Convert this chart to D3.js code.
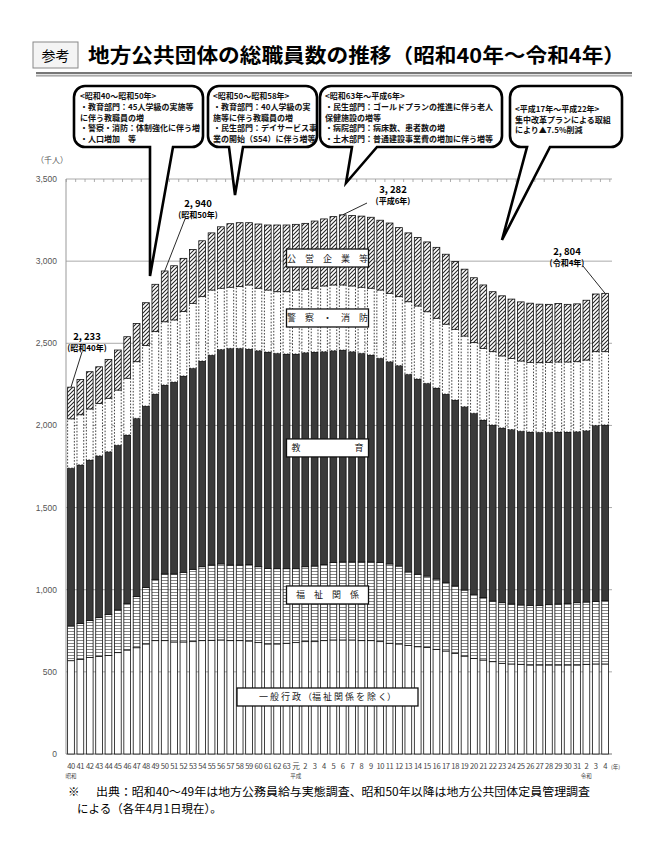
<!DOCTYPE html>
<html>
<head>
<meta charset="utf-8">
<script src="https://cdn.jsdelivr.net/npm/d3@7"></script>
<style>
  body { margin: 0; background: #fff; }
  svg { font-family: "Noto Sans CJK JP", "Noto Sans", sans-serif; }
</style>
</head>
<body>
<svg id="chart" width="660" height="849"></svg>
<script>
// 年（昭和40〜63, 平成元〜31, 令和2〜4）
const years = ['40','41','42','43','44','45','46','47','48','49','50','51','52','53','54','55','56','57','58','59','60','61','62','63',
  '元','2','3','4','5','6','7','8','9','10','11','12','13','14','15','16','17','18','19','20','21','22','23','24','25','26','27','28','29','30','31',
  '2','3','4']
const eraLabels = [{ i: 0, t: '昭和' }, { i: 24, t: '平成' }, { i: 55, t: '令和' }]

// 千人
const ippan = [568,576,588,593,599,617,633,647,670,690,690,682,682,684,690,692,694,690,690,688,678,670,670,674,
  678,684,684,690,694,694,694,690,690,684,674,670,661,653,649,637,627,613,596,582,572,562,552,548,546,542,542,542,542,542,542,
  546,548,548]
const fukushi = [211,219,224,237,251,260,284,311,343,373,406,414,424,440,450,458,463,460,460,466,462,460,458,454,
  450,456,460,464,471,475,475,479,479,481,483,474,447,441,434,428,418,410,402,390,380,369,369,365,361,363,363,367,371,375,379,
  379,381,385]
const kyoiku = [961,965,978,985,990,1003,1025,1085,1105,1128,1150,1168,1195,1224,1252,1278,1305,1319,1319,1311,1315,1317,1311,1307,
  1307,1303,1303,1295,1290,1290,1280,1270,1260,1244,1231,1220,1203,1189,1173,1163,1146,1132,1116,1102,1081,1072,1064,1062,1058,1055,1053,1049,1047,1043,1041,
  1043,1071,1070]
const keisatsu = [300,305,310,318,325,335,345,345,368,380,385,378,392,395,392,396,373,372,376,390,380,377,375,379,
  389,386,388,400,400,396,400,402,406,415,416,420,442,444,436,424,425,430,430,430,436,446,438,433,427,424,424,426,426,426,426,
  430,449,446]
const kouei = [193,215,227,224,237,244,253,233,261,288,309,330,324,328,340,348,374,387,389,379,391,396,406,406,
  400,401,409,408,416,427,429,433,432,425,428,420,419,417,425,432,426,413,407,395,386,365,366,361,360,360,356,353,356,351,352,
  364,351,355]

const keys = ['ippan', 'fukushi', 'kyoiku', 'keisatsu', 'kouei']
const series = { ippan, fukushi, kyoiku, keisatsu, kouei }
const yTicks = [0, 500, 1000, 1500, 2000, 2500, 3000, 3500]

const svg = d3.select('#chart')
const defs = svg.append('defs')

// patterns
const pF = defs.append('pattern').attr('id', 'pF').attr('patternUnits', 'userSpaceOnUse')
  .attr('width', 8).attr('height', 3)
pF.append('rect').attr('width', 8).attr('height', 3).attr('fill', '#fff')
pF.append('line').attr('x1', 0).attr('x2', 8).attr('y1', 1.5).attr('y2', 1.5)
  .attr('stroke', '#666').attr('stroke-width', 0.8)

const pK = defs.append('pattern').attr('id', 'pK').attr('patternUnits', 'userSpaceOnUse')
  .attr('width', 4).attr('height', 4)
pK.append('rect').attr('width', 4).attr('height', 4).attr('fill', '#fff')
pK.append('path').attr('d', 'M-1,1 l2,-2 M0,4 l4,-4 M3,5 l2,-2')
  .attr('stroke', '#222').attr('stroke-width', 1.05)

const fills = { ippan: '#fff', fukushi: 'url(#pF)', kyoiku: '#3a3a3a', keisatsu: '#fff', kouei: 'url(#pK)' }

const x = d3.scaleBand().domain(d3.range(years.length)).range([66.3, 609.8]).paddingInner(0.28).paddingOuter(0.14)
const y = d3.scaleLinear().domain([0, 3500]).range([754, 179])

// gridlines
svg.append('g').selectAll('line').data(yTicks).join('line')
  .attr('x1', 66).attr('x2', 612)
  .attr('y1', d => y(d)).attr('y2', d => y(d))
  .attr('stroke', d => d === 0 ? '#777' : '#aaa').attr('stroke-width', 1)
svg.append('line').attr('x1', 66).attr('x2', 66).attr('y1', y(3500)).attr('y2', y(0)).attr('stroke', '#999')

// small ticks on top gridline
const step = x.step()
svg.append('g').selectAll('line').data(d3.range(years.length + 1)).join('line')
  .attr('x1', d => 66.3 + d * step).attr('x2', d => 66.3 + d * step)
  .attr('y1', y(3500)).attr('y2', y(3500) + 3)
  .attr('stroke', '#999').attr('stroke-width', 0.8)

// y labels
svg.append('g').selectAll('text').data(yTicks).join('text')
  .attr('x', 57).attr('y', d => y(d) + 3)
  .attr('text-anchor', 'end').attr('font-size', 8.5).attr('fill', '#555')
  .attr('font-family', 'Liberation Sans, Arial, sans-serif')
  .text(d => d3.format(',')(d))
svg.append('text').attr('x', 36).attr('y', 163).attr('font-size', 8).attr('fill', '#555').text('（千人）')

// stacked bars
const rows = years.map((yr, i) => {
  const r = { i }
  keys.forEach(k => { r[k] = series[k][i] })
  return r
})
const stacked = d3.stack().keys(keys)(rows)
svg.append('g').selectAll('g').data(stacked).join('g')
  .attr('fill', d => fills[d.key])
  .attr('stroke', '#111')
  .attr('stroke-width', 0.8)
  .attr('stroke-dasharray', d => d.key === 'keisatsu' ? '1.6,1.6' : null)
  .selectAll('rect').data(d => d).join('rect')
  .attr('x', d => x(d.data.i))
  .attr('width', x.bandwidth())
  .attr('y', d => y(d[1]))
  .attr('height', d => y(d[0]) - y(d[1]))

// x labels
svg.append('g').selectAll('text').data(years).join('text')
  .attr('x', (d, i) => x(i) + x.bandwidth() / 2)
  .attr('y', 769)
  .attr('text-anchor', 'middle').attr('font-size', 7.6).attr('fill', '#444')
  .attr('letter-spacing', -0.4)
  .text(d => d)
svg.append('g').selectAll('text').data(eraLabels).join('text')
  .attr('x', d => x(d.i) + x.bandwidth() / 2)
  .attr('y', 778)
  .attr('text-anchor', 'middle').attr('font-size', 5.5).attr('fill', '#444')
  .text(d => d.t)
svg.append('text').attr('x', 611).attr('y', 769).attr('font-size', 5.5).attr('fill', '#444').text('(年)')

// segment labels
const segLabels = [
  { v: 3019, t: '公　営　企　業　等', w: 82 },
  { v: 2654, t: '警　察　・　消　防', w: 82 },
  { v: 1863, t: '教　　　　　　育', w: 82 },
  { v: 968, t: '福　祉　関　係', w: 82 },
  { v: 347, t: '一 般 行 政 （福 祉 関 係 を 除 く）', w: 181 }
]
const sl = svg.append('g').selectAll('g').data(segLabels).join('g')
  .attr('transform', d => `translate(327.5,${y(d.v)})`)
sl.append('rect').attr('x', d => -d.w / 2).attr('y', -9).attr('width', d => d.w).attr('height', 18)
  .attr('fill', '#fff').attr('stroke', '#111').attr('stroke-width', 1.3)
sl.append('text').attr('text-anchor', 'middle').attr('y', 3.5).attr('font-size', 9).attr('fill', '#222')
  .text(d => d.t)

// value annotations
const notes = [
  { i: 0, v: 2233, lx: 87, ly: 340, t1: '2, 233', t2: '(昭和40年)', from: [82, 352] },
  { i: 10, v: 2940, lx: 198, ly: 207, t1: '2, 940', t2: '(昭和50年)', from: [185, 219] },
  { i: 29, v: 3282, lx: 393, ly: 193, t1: '3, 282', t2: '(平成6年)', from: [367, 203] },
  { i: 57, v: 2804, lx: 567, ly: 255, t1: '2, 804', t2: '(令和4年)', from: [583, 266] }
]
const ng = svg.append('g').selectAll('g').data(notes).join('g')
ng.append('line')
  .attr('x1', d => d.from[0]).attr('y1', d => d.from[1])
  .attr('x2', d => x(d.i) + x.bandwidth() / 2).attr('y2', d => y(d.v))
  .attr('stroke', '#111').attr('stroke-width', 0.9)
ng.append('text').attr('x', d => d.lx).attr('y', d => d.ly).attr('text-anchor', 'middle')
  .attr('font-size', 9.5).attr('font-weight', 'bold').text(d => d.t1)
ng.append('text').attr('x', d => d.lx).attr('y', d => d.ly + 10.5).attr('text-anchor', 'middle')
  .attr('font-size', 8).attr('font-weight', 'bold').text(d => d.t2)

// callout bubbles
function bubble (x0, y0, x1, y1, r, b0, b1, tx, ty) {
  return `M${x0 + r},${y0} H${x1 - r} A${r},${r} 0 0 1 ${x1},${y0 + r} V${y1 - r} A${r},${r} 0 0 1 ${x1 - r},${y1}` +
    ` H${b1} L${tx},${ty} L${b0},${y1} H${x0 + r} A${r},${r} 0 0 1 ${x0},${y1 - r} V${y0 + r} A${r},${r} 0 0 1 ${x0 + r},${y0} Z`
}
const callouts = [
  { box: [74, 86, 203, 147], tail: [150, 173, 150, 276], tx: 80,
    lines: ['<昭和40～昭和50年>', '・教育部門：45人学級の実施等', 'に伴う教職員の増', '・警察・消防：体制強化に伴う増', '・人口増加　等'], ly: [99, 110, 120.5, 131, 141.5] },
  { box: [208, 86, 317, 147], tail: [229, 243, 235, 195], tx: 213,
    lines: ['<昭和50～昭和58年>', '・教育部門：40人学級の実', '施等に伴う教職員の増', '・民生部門：デイサービス事', '業の開始（S54）に伴う増等'], ly: [99, 110, 120.5, 131, 141.5] },
  { box: [320, 86, 502, 147], tail: [352, 377, 346, 183], tx: 325,
    lines: ['<昭和63年～平成6年>', '・民生部門：ゴールドプランの推進に伴う老人', '保健施設の増等', '・病院部門：病床数、患者数の増', '・土木部門：普通建設事業費の増加に伴う増等'], ly: [99, 110, 120.5, 131, 141.5] },
  { box: [510, 86, 622, 147], tail: [527, 550, 502, 240], tx: 515,
    lines: ['<平成17年～平成22年>', '集中改革プランによる取組', 'により▲7.5%削減'], ly: [112, 122.5, 133] }
]
const cg = svg.append('g').selectAll('g').data(callouts).join('g')
cg.append('path')
  .attr('d', d => bubble(d.box[0], d.box[1], d.box[2], d.box[3], 11, d.tail[0], d.tail[1], d.tail[2], d.tail[3]))
  .attr('fill', '#fff').attr('stroke', '#000').attr('stroke-width', 2.6).attr('stroke-linejoin', 'miter')
cg.each(function (d) {
  d3.select(this).selectAll('text').data(d.lines).join('text')
    .attr('x', d.tx).attr('y', (t, k) => d.ly[k])
    .attr('font-size', 8).attr('font-weight', 'bold').attr('fill', '#111')
    .text(t => t)
})

// title
svg.append('rect').attr('x', 33).attr('y', 42).attr('width', 45).attr('height', 26)
  .attr('fill', '#f4f4f4').attr('stroke', '#888').attr('stroke-width', 1)
svg.append('text').attr('x', 55.5).attr('y', 60.5).attr('text-anchor', 'middle').attr('font-size', 14).text('参考')
svg.append('text').attr('x', 88).attr('y', 63).attr('font-size', 20).attr('font-weight', 'bold')
  .attr('textLength', 537).attr('lengthAdjust', 'spacingAndGlyphs')
  .text('地方公共団体の総職員数の推移（昭和40年～令和4年）')
svg.append('rect').attr('x', 36).attr('y', 72).attr('width', 596).attr('height', 2.2).attr('fill', '#777')
svg.append('rect').attr('x', 36).attr('y', 75).attr('width', 596).attr('height', 1.6).attr('fill', '#aaa')

// footnote
svg.append('text').attr('x', 68).attr('y', 796).attr('font-size', 11.5).text('※')
svg.append('text').attr('x', 96).attr('y', 796).attr('font-size', 11.5)
  .attr('textLength', 494).attr('lengthAdjust', 'spacingAndGlyphs')
  .text('出典：昭和40～49年は地方公務員給与実態調査、昭和50年以降は地方公共団体定員管理調査')
svg.append('text').attr('x', 77).attr('y', 813).attr('font-size', 11.5).text('による（各年4月1日現在）。')
</script>
</body>
</html>
